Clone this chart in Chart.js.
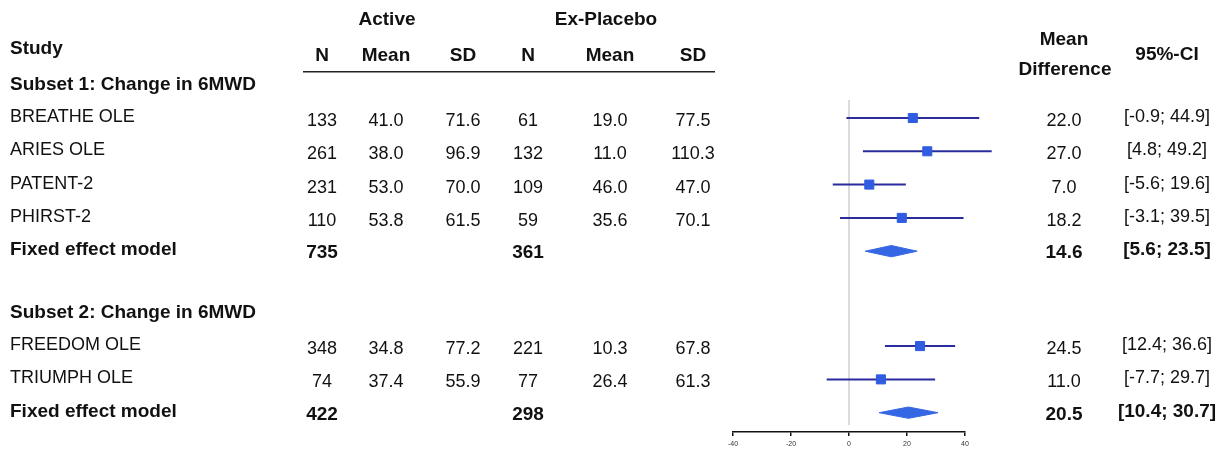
<!DOCTYPE html>
<html>
<head>
<meta charset="utf-8">
<script src="https://cdn.jsdelivr.net/npm/chart.js@4.4.1/dist/chart.umd.min.js"></script>
<style>
  body { margin: 0; background: #fff; }
  #wrap { width: 1223px; height: 449px; position: relative; }
</style>
</head>
<body>
<div id="wrap"><canvas id="forest"></canvas></div>
<script>
// study level data
const studies = ['BREATHE OLE', 'ARIES OLE', 'PATENT-2', 'PHIRST-2', 'FREEDOM OLE', 'TRIUMPH OLE'];
const studySubset = [0, 0, 0, 0, 1, 1];
const activeN = [133, 261, 231, 110, 348, 74];
const activeMean = [41.0, 38.0, 53.0, 53.8, 34.8, 37.4];
const activeSD = [71.6, 96.9, 70.0, 61.5, 77.2, 55.9];
const placeboN = [61, 132, 109, 59, 221, 77];
const placeboMean = [19.0, 11.0, 46.0, 35.6, 10.3, 26.4];
const placeboSD = [77.5, 110.3, 47.0, 70.1, 67.8, 61.3];
const meanDiff = [22.0, 27.0, 7.0, 18.2, 24.5, 11.0];
const ciLower = [-0.9, 4.8, -5.6, -3.1, 12.4, -7.7];
const ciUpper = [44.9, 49.2, 19.6, 39.5, 36.6, 29.7];

// subset / pooled data
const subsetTitles = ['Subset 1: Change in 6MWD', 'Subset 2: Change in 6MWD'];
const pooledLabel = 'Fixed effect model';
const pooledActiveN = [735, 422];
const pooledPlaceboN = [361, 298];
const pooledMD = [14.6, 20.5];
const pooledLower = [5.6, 10.4];
const pooledUpper = [23.5, 30.7];

const xTicks = [-40, -20, 0, 20, 40];

// ---- row layout (row units, 0 = first study) ----
const studyRow = [];
const pooledRow = [];
const headerRow = [];
let r = -1;
subsetTitles.forEach((t, s) => {
  if (s > 0) r += 1.85;
  headerRow.push(r);
  studies.forEach((name, i) => {
    if (studySubset[i] === s) { r += 1; studyRow[i] = r; }
  });
  r += 1;
  pooledRow.push(r);
});

const fmt1 = v => v.toFixed(1);
const ciText = (lo, hi) => '[' + fmt1(lo) + '; ' + fmt1(hi) + ']';

const LINE_COL = '#2a2c9e';
const BOX_COL = '#2f5ce0';
const DIAMOND_COL = '#3566e3';

const datasets = [];

// reference line at zero
datasets.push({
  type: 'line',
  data: [{ x: 0, y: -0.54 }, { x: 0, y: 9.22 }],
  borderColor: '#cfcfcf',
  borderWidth: 1.5,
  pointRadius: 0,
  order: 5
});

// confidence intervals (may run past the axis end, so no clipping)
studies.forEach((name, i) => {
  datasets.push({
    type: 'line',
    data: [{ x: ciLower[i], y: studyRow[i] }, { x: ciUpper[i], y: studyRow[i] }],
    borderColor: LINE_COL,
    borderWidth: 2,
    pointRadius: 0,
    clip: false,
    order: 2
  });
});

// point estimates
datasets.push({
  type: 'scatter',
  data: meanDiff.map((v, i) => ({ x: v, y: studyRow[i] })),
  pointStyle: 'rect',
  pointRadius: 6.4,
  backgroundColor: BOX_COL,
  borderColor: BOX_COL,
  borderWidth: 1,
  clip: false,
  order: 1
});

// pooled diamonds
pooledMD.forEach((m, s) => {
  const y = pooledRow[s];
  const h = 0.17;
  datasets.push({
    type: 'line',
    data: [
      { x: pooledLower[s], y: y },
      { x: m, y: y - h },
      { x: pooledUpper[s], y: y },
      { x: m, y: y + h },
      { x: pooledLower[s], y: y }
    ],
    borderColor: DIAMOND_COL,
    backgroundColor: DIAMOND_COL,
    borderWidth: 1,
    pointRadius: 0,
    fill: 'shape',
    tension: 0,
    clip: false,
    order: 1
  });
});

// table text drawn next to the plot
const tablePlugin = {
  id: 'forestTable',
  afterDraw(chart) {
    const ctx = chart.ctx;
    const ys = chart.scales.y;
    const py = v => ys.getPixelForValue(v);
    const REG = '18px "Liberation Sans", Arial, sans-serif';
    const BOLD = 'bold 19px "Liberation Sans", Arial, sans-serif';
    ctx.save();
    ctx.fillStyle = '#111';
    ctx.textBaseline = 'middle';

    const put = (txt, x, y, font, align) => {
      ctx.font = font;
      ctx.textAlign = align || 'center';
      ctx.fillText(txt, x, y);
    };

    // headers
    put('Active', 387, py(-2.95), BOLD);
    put('Ex-Placebo', 606, py(-2.95), BOLD);
    put('Study', 10, py(-2.07), BOLD, 'left');
    const colX = [322, 386, 463, 528, 610, 693];
    ['N', 'Mean', 'SD', 'N', 'Mean', 'SD'].forEach((h, k) => put(h, colX[k], py(-1.86), BOLD));
    put('Mean', 1064, py(-2.34), BOLD);
    put('Difference', 1065, py(-1.44), BOLD);
    put('95%-CI', 1167, py(-1.89), BOLD);

    ctx.strokeStyle = '#222';
    ctx.lineWidth = 1.5;
    ctx.beginPath();
    ctx.moveTo(303, py(-1.39));
    ctx.lineTo(715, py(-1.39));
    ctx.stroke();

    subsetTitles.forEach((t, s) => put(t, 10, py(headerRow[s]), BOLD, 'left'));

    studies.forEach((name, i) => {
      const y = py(studyRow[i]);
      put(name, 10, y - 1, REG, 'left');
      const cells = [activeN[i], fmt1(activeMean[i]), fmt1(activeSD[i]),
                     placeboN[i], fmt1(placeboMean[i]), fmt1(placeboSD[i])];
      cells.forEach((c, k) => put(String(c), colX[k], y + 3, REG));
      put(fmt1(meanDiff[i]), 1064, y + 3, REG);
      put(ciText(ciLower[i], ciUpper[i]), 1167, y - 1, REG);
    });

    pooledMD.forEach((m, s) => {
      const y = py(pooledRow[s]);
      put(pooledLabel, 10, y - 1, BOLD, 'left');
      put(String(pooledActiveN[s]), colX[0], y + 2, BOLD);
      put(String(pooledPlaceboN[s]), colX[3], y + 2, BOLD);
      put(fmt1(m), 1064, y + 2, BOLD);
      put(ciText(pooledLower[s], pooledUpper[s]), 1167, y - 1, BOLD);
    });
    ctx.restore();
  }
};

new Chart(document.getElementById('forest'), {
  type: 'scatter',
  data: { datasets: datasets },
  options: {
    responsive: true,
    maintainAspectRatio: false,
    animation: false,
    layout: { padding: { left: 733, right: 258, top: 100, bottom: 1 } },
    plugins: { legend: { display: false }, tooltip: { enabled: false } },
    scales: {
      x: {
        type: 'linear',
        min: -40,
        max: 40,
        afterBuildTicks: scale => { scale.ticks = xTicks.map(v => ({ value: v })); },
        afterFit: scale => { scale.height = 16; scale.paddingLeft = 0; scale.paddingRight = 0; },
        grid: { display: true, drawOnChartArea: false, drawTicks: true, tickLength: 4, color: '#111', lineWidth: 1.5 },
        border: { display: true, color: '#111', width: 1.5 },
        ticks: { color: '#333', font: { size: 7 }, padding: 4, maxRotation: 0 }
      },
      y: {
        type: 'linear',
        display: false,
        reverse: true,
        min: -0.54,
        max: 9.43
      }
    }
  },
  plugins: [tablePlugin]
});
</script>
</body>
</html>
